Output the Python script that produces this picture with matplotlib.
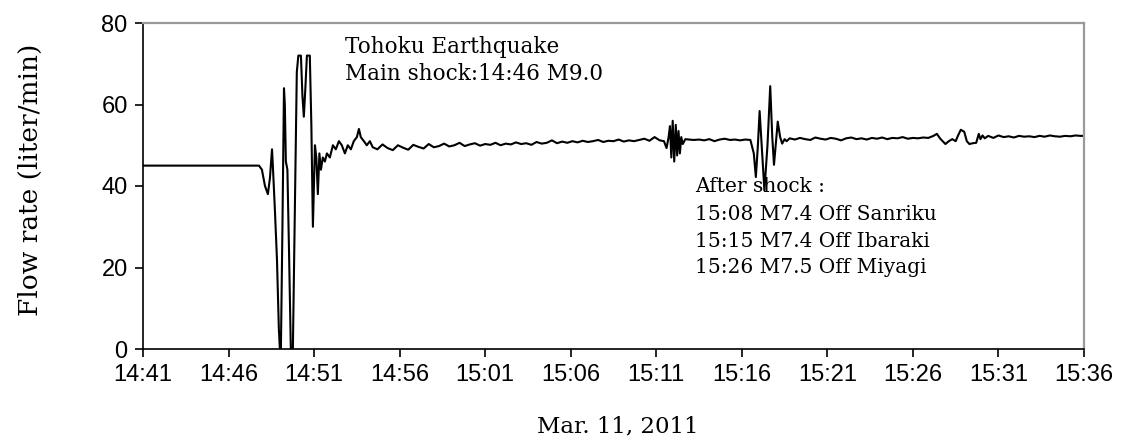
import numpy as np
import matplotlib
matplotlib.use("Agg")
import matplotlib.pyplot as plt

# ---- data (time in minutes after 14:41, flow in liter/min) ----
t_pre = [0.0, 6.78]
q_pre = [45.0, 45.0]

t_main = [6.95, 7.13, 7.30, 7.42, 7.54, 7.59, 7.71, 7.83, 7.94, 8.00, 8.06, 8.15,
          8.24, 8.29, 8.35, 8.44, 8.53, 8.64, 8.76, 8.88, 8.99, 9.08, 9.23, 9.32,
          9.40, 9.49, 9.58, 9.75, 9.84, 9.93, 9.99, 10.05, 10.13, 10.22, 10.31,
          10.40, 10.51, 10.63, 10.75, 10.92, 11.10, 11.27, 11.45, 11.62, 11.80,
          11.97, 12.15, 12.32, 12.50, 12.62, 12.73, 12.91, 13.08, 13.26, 13.43]
q_main = [44, 40, 38, 42, 49, 45, 34, 22, 5, 0, 0, 30,
          64, 60, 46, 44, 25, 0, 0, 35, 68, 72, 72, 62,
          57, 64, 72, 72, 55, 30, 40, 50, 47, 38, 48,
          44, 47, 46, 48, 47, 50, 49, 51, 50, 48,
          50, 49, 51, 52, 54, 52, 51, 50, 51, 49.5]

quiet1_start, quiet1_step = 13.7, 0.3
q_quiet1 = [49.0, 50.2, 49.3, 48.8, 50.0, 49.4, 48.9, 50.1, 49.6, 49.2, 50.3, 49.5,
            49.8, 50.4, 49.7, 50.0, 50.6, 49.8, 50.2, 50.5, 49.9, 50.3, 50.1, 50.6,
            50.0, 50.4, 50.2, 50.7, 50.3, 50.5, 50.1, 50.8, 50.4, 50.6, 51.2, 50.5,
            50.9, 50.6, 51.0, 50.7, 51.1, 50.8, 51.0, 51.3, 50.8, 51.1, 51.0, 51.4,
            50.9, 51.2, 51.0, 51.3, 51.6, 51.1, 52.0, 51.2]

t_after1 = [30.45, 30.60, 30.72, 30.80, 30.88, 30.96, 31.05, 31.14, 31.22, 31.30,
            31.38, 31.46, 31.55, 31.70]
q_after1 = [51.0, 49.3, 52.0, 54.7, 47.0, 56.0, 46.0, 55.0, 47.5, 53.5,
            48.0, 52.0, 50.3, 51.5]

quiet2_start, quiet2_step = 31.9, 0.3
q_quiet2 = [51.4, 51.3, 51.4, 51.2, 51.5, 51.0, 51.4, 51.6, 51.3, 51.4, 51.2, 51.4]

t_after2 = [35.50, 35.70, 35.82, 35.94, 36.04, 36.16, 36.32, 36.50, 36.66, 36.78,
            36.88, 36.98, 37.10, 37.24, 37.36, 37.50, 37.62]
q_after2 = [51.3, 48.0, 42.2, 50.0, 58.4, 50.0, 38.9, 50.0, 64.5, 52.0,
            45.2, 50.0, 55.8, 52.0, 50.4, 51.5, 51.0]

quiet3_start, quiet3_step = 37.8, 0.3
q_quiet3 = [51.7, 51.4, 51.8, 51.5, 51.3, 51.9, 51.6, 51.4, 51.8, 51.6, 51.2, 51.7,
            51.9, 51.5, 51.7, 51.4, 51.8, 51.6, 51.9, 51.5, 51.8, 51.7, 52.0, 51.6,
            51.8, 51.7, 51.9]

t_after3 = [45.9, 46.2, 46.4, 46.6, 46.9, 47.1, 47.3, 47.5, 47.65, 47.8, 48.0,
            48.15, 48.3, 48.5, 48.7, 48.85, 48.95, 49.07, 49.2]
q_after3 = [51.8, 52.3, 52.8, 51.6, 50.3, 51.0, 51.5, 51.0, 52.5, 53.8, 53.3,
            51.0, 50.3, 50.5, 50.6, 52.8, 51.5, 52.4, 51.7]

quiet4_start, quiet4_step = 49.4, 0.3
q_quiet4 = [52.3, 51.8, 52.4, 52.0, 52.2, 51.9, 52.3, 52.1, 52.2, 52.0, 52.3, 52.1,
            52.4, 52.2, 52.1, 52.3, 52.2, 52.4, 52.3]
t_end = [55.0]
q_end = [52.3]

tick_minutes = [0, 5, 10, 15, 20, 25, 30, 35, 40, 45, 50, 55]
tick_labels = ["14:41", "14:46", "14:51", "14:56", "15:01", "15:06",
               "15:11", "15:16", "15:21", "15:26", "15:31", "15:36"]
y_ticks = [0, 20, 40, 60, 80]


def reg(start, step, vals):
    return list(start + step * np.arange(len(vals)))


t = np.concatenate([t_pre, t_main, reg(quiet1_start, quiet1_step, q_quiet1), t_after1,
                    reg(quiet2_start, quiet2_step, q_quiet2), t_after2,
                    reg(quiet3_start, quiet3_step, q_quiet3), t_after3,
                    reg(quiet4_start, quiet4_step, q_quiet4), t_end])
q = np.concatenate([q_pre, q_main, q_quiet1, q_after1, q_quiet2, q_after2,
                    q_quiet3, q_after3, q_quiet4, q_end])

fig = plt.figure(figsize=(11.21, 4.41), dpi=100)
ax = fig.add_axes([143 / 1121, 1 - 349 / 441, (1084 - 143) / 1121, (349 - 23) / 441])

ax.plot(t, q, color="black", lw=1.5)

ax.set_xlim(0, 55)
ax.set_ylim(0, 80)
ax.set_xticks(tick_minutes)
ax.set_xticklabels(tick_labels)
ax.set_yticks(y_ticks)

sans = "Liberation Sans"
serif = "DejaVu Serif"
for lab in ax.get_xticklabels() + ax.get_yticklabels():
    lab.set_fontfamily(sans)
    lab.set_fontsize(17)
ax.tick_params(direction="out", length=6, width=1.2, colors="black", pad=5)

for s in ["left", "bottom"]:
    ax.spines[s].set_color("black")
    ax.spines[s].set_linewidth(1.2)
for s in ["top", "right"]:
    ax.spines[s].set_color("#9a9a9a")
    ax.spines[s].set_linewidth(1.6)

ax.set_ylabel("Flow rate (liter/min)", fontfamily=serif, fontsize=19)
ax.yaxis.label.set_va("center")
ax.yaxis.set_label_coords(-0.120, 0.52)
ax.set_xlabel("Mar. 11, 2011", fontfamily=serif, fontsize=16.5)
ax.xaxis.label.set_va("center")
ax.xaxis.set_label_coords(0.505, -0.239)

tk = dict(fontfamily=serif, fontsize=15.5, va="center", ha="left", color="black")
ax.text(11.8, 74.0, "Tohoku Earthquake", **tk)
ax.text(11.8, 67.5, "Main shock:14:46 M9.0", **tk)
tk["fontsize"] = 14.5
ax.text(32.26, 40.0, "After shock :", **tk)
ax.text(32.26, 32.9, "15:08 M7.4 Off Sanriku", **tk)
ax.text(32.26, 26.3, "15:15 M7.4 Off Ibaraki", **tk)
ax.text(32.26, 19.9, "15:26 M7.5 Off Miyagi", **tk)

fig.savefig("out.png", dpi=100)
